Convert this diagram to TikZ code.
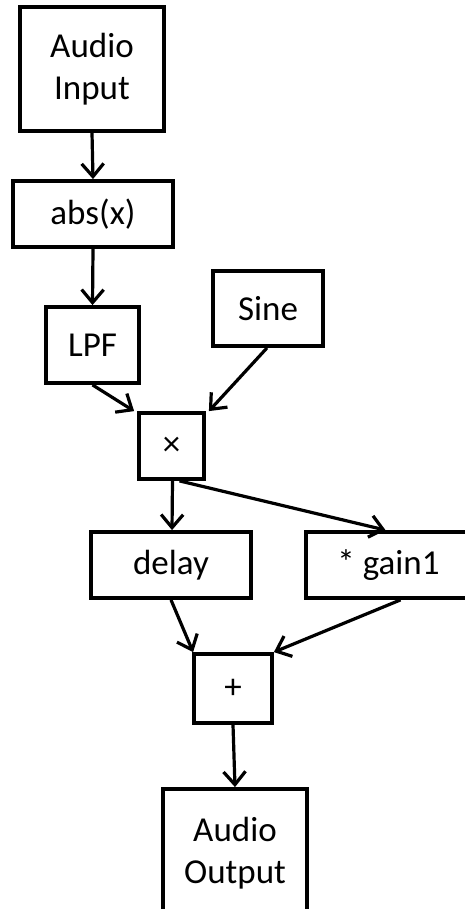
\documentclass[tikz,border=0pt]{standalone}
\usepackage{fontspec}
\setmainfont{Carlito}
\usetikzlibrary{arrows.meta}
\begin{document}
\begin{tikzpicture}[x=1pt,y=-1pt,
  blk/.style={draw=black,line width=3.8pt,inner sep=0pt,align=center,
    font=\fontsize{35}{42}\selectfont},
  arr/.style={line width=3.2pt,-{Straight Barb[length=13pt,width=22pt,line width=3.2pt]}}]
\useasboundingbox (0,0) rectangle (465,909);
\clip (0,0) rectangle (465,909);
\node[blk,minimum width=144pt,minimum height=124pt] (in) at (92,69) {Audio\\Input};
\node[blk,minimum width=160pt,minimum height=66pt] (abs) at (93,214) {abs(x)};
\node[blk,minimum width=93pt,minimum height=76pt] (lpf) at (92.5,345) {LPF};
\node[blk,minimum width=110pt,minimum height=75pt] (sine) at (268,308.5) {Sine};
\node[blk,minimum width=65pt,minimum height=66pt] (mul) at (171.5,446) {×};
\node[blk,minimum width=160pt,minimum height=66pt] (delay) at (171,565) {delay};
\node[blk,minimum width=165pt,minimum height=66pt] (gain) at (388.5,565) {* gain1};
\node[blk,minimum width=78pt,minimum height=69pt] (plus) at (233,688.5) {+};
\node[blk,minimum width=144pt,minimum height=128pt] (out) at (235,853) {Audio\\Output};
\draw[arr] (in.south) -- (abs.north);
\draw[arr] (abs.south) -- (lpf.north);
\draw[arr] (lpf.south) -- ([xshift=-3pt]mul.north west);
\draw[arr] ([xshift=-1pt]sine.south) -- ([xshift=3pt]mul.north east);
\draw[arr] ([xshift=1pt]mul.south) -- ([xshift=1pt]delay.north);
\draw[arr] ([xshift=8pt]mul.south) -- ([xshift=-3pt]gain.north);
\draw[arr] (delay.south) -- ([xshift=1pt]plus.north west);
\draw[arr] ([xshift=12pt]gain.south) -- (plus.north east);
\draw[arr] (plus.south) -- (out.north);
\end{tikzpicture}
\end{document}
